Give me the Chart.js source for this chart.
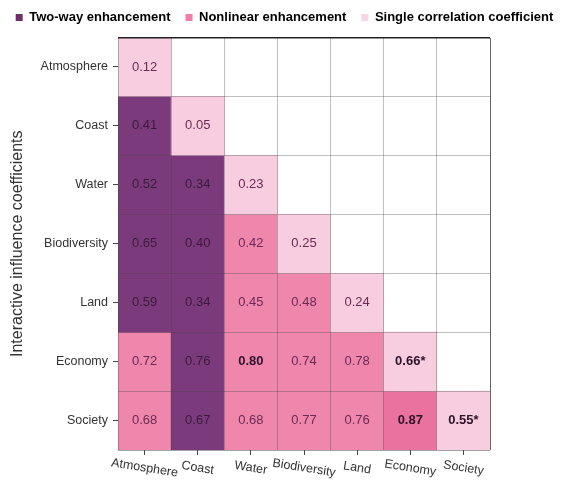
<!DOCTYPE html>
<html>
<head>
<meta charset="utf-8">
<script src="https://cdn.jsdelivr.net/npm/chart.js@4"></script>
<style>
  html, body { margin: 0; padding: 0; background: #fff; }
  #wrap { width: 569px; height: 480px; }
</style>
</head>
<body>
<div id="wrap"><canvas id="myChart"></canvas></div>
<script>
const factors = ['Atmosphere', 'Coast', 'Water', 'Biodiversity', 'Land', 'Economy', 'Society'];

// lower triangle, row by row (row i has i+1 values)
const coefficients = [
  [0.12],
  [0.41, 0.05],
  [0.52, 0.34, 0.23],
  [0.65, 0.40, 0.42, 0.25],
  [0.59, 0.34, 0.45, 0.48, 0.24],
  [0.72, 0.76, 0.80, 0.74, 0.78, 0.66],
  [0.68, 0.67, 0.68, 0.77, 0.76, 0.87, 0.55]
];

// 0 = two-way enhancement, 1 = nonlinear enhancement, 2 = single correlation coefficient
const interactionType = [
  [2],
  [0, 2],
  [0, 0, 2],
  [0, 0, 1, 2],
  [0, 0, 1, 1, 2],
  [1, 0, 1, 1, 1, 2],
  [1, 0, 1, 1, 1, 1, 2]
];

const typeNames = ['Two-way enhancement', 'Nonlinear enhancement', 'Single correlation coefficient'];

// [row, col] of cells marked with * and of cells printed in bold
const significant = [[5, 5], [6, 6]];
const boldCells = [[5, 2], [5, 5], [6, 5], [6, 6]];

const cellColors = ['#7b3a7c', '#ef87ad', '#f8cde0'];
const strongPink = '#e9729f';
const legendColors = ['#6f2f6d', '#ee7fa9', '#f9d6e5'];
const fontFamily = '"Liberation Sans", Arial, Helvetica, sans-serif';

Chart.defaults.font.family = fontFamily;

const maxNonlinear = Math.max(...coefficients.flatMap((row, r) => row.filter((v, c) => interactionType[r][c] === 1)));

function cellColor(r, c) {
  const t = interactionType[r][c];
  if (t === 1 && coefficients[r][c] === maxNonlinear) return strongPink;
  return cellColors[t];
}

function hasCell(list, r, c) {
  return list.some((p) => p[0] === r && p[1] === c);
}

// one floating bar per cell, one dataset per row
const datasets = factors.map((rowName, r) => ({
  label: rowName,
  data: factors.map((colName, c) => (c <= r ? [r, r + 1] : null)),
  backgroundColor: (ctx) => (ctx.dataIndex <= r ? cellColor(r, ctx.dataIndex) : 'transparent'),
  borderWidth: 0,
  grouped: false,
  categoryPercentage: 1,
  barPercentage: 1,
  xAxisID: 'x',
  yAxisID: 'yg'
}));

const cellText = {
  id: 'cellText',
  afterDatasetsDraw(chart) {
    const ctx = chart.ctx;
    ctx.save();
    ctx.textAlign = 'center';
    ctx.textBaseline = 'middle';
    chart.data.datasets.forEach((ds, r) => {
      const meta = chart.getDatasetMeta(r);
      meta.data.forEach((bar, c) => {
        if (c > r) return;
        const bold = hasCell(boldCells, r, c);
        const star = hasCell(significant, r, c) ? '*' : '';
        const p = bar.getProps(['x', 'y', 'base'], true);
        ctx.font = (bold ? 'bold ' : '') + '13px ' + fontFamily;
        ctx.fillStyle = bold ? '#2e1229' : (interactionType[r][c] === 0 ? '#3b1a3d' : '#6a2a52');
        ctx.fillText(coefficients[r][c].toFixed(2) + star, p.x, (p.y + p.base) / 2);
      });
    });
    ctx.restore();
  }
};

// x labels in the original are slightly slanted
const slantedLabels = {
  id: 'slantedLabels',
  afterDraw(chart) {
    const scale = chart.scales.x;
    const ctx = chart.ctx;
    ctx.save();
    ctx.font = '12.5px ' + fontFamily;
    ctx.fillStyle = '#333';
    ctx.textAlign = 'center';
    ctx.textBaseline = 'middle';
    factors.forEach((name, i) => {
      ctx.save();
      ctx.translate(scale.getPixelForTick(i), scale.top + 18);
      ctx.rotate(9 * Math.PI / 180);
      ctx.fillText(name, 0, 0);
      ctx.restore();
    });
    ctx.restore();
  }
};

const lineGray = 'rgba(70,70,70,0.35)';

new Chart(document.getElementById('myChart'), {
  type: 'bar',
  data: { labels: factors, datasets: datasets },
  plugins: [cellText, slantedLabels],
  options: {
    responsive: true,
    maintainAspectRatio: false,
    animation: false,
    events: [],
    layout: { padding: { top: -4, left: 0, right: 0, bottom: 0 } },
    plugins: {
      tooltip: { enabled: false },
      legend: {
        position: 'top',
        onClick: null,
        labels: {
          boxWidth: 7,
          boxHeight: 7,
          padding: 15,
          color: '#555',
          font: { size: 13, weight: 'bold' },
          generateLabels: () => typeNames.map((t, i) => ({
            text: t,
            fillStyle: legendColors[i],
            strokeStyle: legendColors[i],
            lineWidth: 0,
            hidden: false,
            datasetIndex: i
          }))
        }
      }
    },
    scales: {
      x: {
        type: 'category',
        position: 'bottom',
        offset: true,
        grid: { offset: false, drawOnChartArea: false, tickLength: 5, color: '#444' },
        border: { display: false },
        ticks: { display: false },
        afterFit: (s) => { s.height = 30; }
      },
      xg: {
        type: 'linear',
        axis: 'x',
        position: 'top',
        min: 0,
        max: 7,
        offset: false,
        ticks: { display: false, stepSize: 1 },
        grid: {
          offset: false,
          drawTicks: false,
          z: 1,
          color: (c) => (c.tick.value === 7 ? '#666' : lineGray)
        },
        border: { display: false },
        afterFit: (s) => { s.height = 3.5; }
      },
      y: {
        type: 'category',
        position: 'left',
        labels: factors,
        offset: true,
        grid: { offset: false, drawOnChartArea: false, tickLength: 5, color: '#444' },
        border: { display: false },
        ticks: { color: '#333', padding: 5, font: { size: 12.5 } },
        title: {
          display: true,
          text: 'Interactive influence coefficients',
          color: '#333',
          font: { size: 16 },
          padding: { top: 8, bottom: 0 }
        },
        afterFit: (s) => { s.width = 118; }
      },
      yg: {
        type: 'linear',
        axis: 'y',
        position: 'right',
        min: 0,
        max: 7,
        reverse: true,
        ticks: { display: false, stepSize: 1 },
        grid: {
          drawTicks: false,
          z: 1,
          color: (c) => (c.tick.value === 0 ? '#222' : (c.tick.value === 7 ? 'rgba(70,70,70,0.5)' : lineGray)),
          lineWidth: (c) => (c.tick.value === 0 ? 1.6 : 1)
        },
        border: { display: false },
        afterFit: (s) => { s.width = 79; }
      }
    }
  }
});
</script>
</body>
</html>
